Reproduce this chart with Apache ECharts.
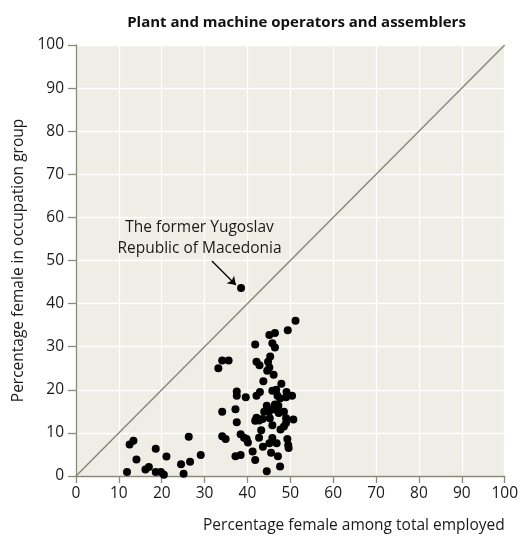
<!DOCTYPE html>
<html>
<head>
<meta charset="utf-8">
<script src="https://cdn.jsdelivr.net/npm/echarts@6/dist/echarts.min.js"></script>
<style>
html,body{margin:0;padding:0;background:#fff;}
#main{width:521px;height:536px;}
</style>
</head>
<body>
<div id="main"></div>
<script>
var chartTitle = 'Plant and machine operators and assemblers';
var xTitle = 'Percentage female among total employed';
var yTitle = 'Percentage female in occupation group';
var annotationText = 'The former Yugoslav\nRepublic of Macedonia';
var diagonal = [[0, 0], [100, 100]];
var points = [
  [12.5,7.3],[13.4,8.2],[14.1,3.8],[11.9,0.9],[16.2,1.5],[17.0,2.1],[18.6,6.3],[18.6,0.9],
  [19.8,0.9],[20.5,0.3],[21.1,4.5],[24.5,2.7],[25.1,0.5],[26.3,9.1],[26.6,3.3],[29.1,4.9],
  [51.2,36.0],[49.4,33.8],[46.4,33.2],[45.1,32.7],[41.8,30.5],[45.8,30.8],[46.4,29.8],[45.3,27.7],
  [34.1,26.8],[35.6,26.8],[42.1,26.5],[44.8,26.5],[42.8,25.7],[33.2,25.0],[45.1,25.2],[44.6,24.4],
  [46.1,23.5],[43.7,22.0],[47.9,21.4],[37.5,19.6],[42.9,19.5],[45.8,19.8],[46.7,20.0],[49.1,19.5],
  [37.5,18.6],[39.6,18.3],[42.1,18.6],[47.0,18.6],[47.6,18.0],[50.4,18.6],[49.0,18.3],[44.5,16.3],
  [46.4,16.6],[47.2,16.3],[45.9,15.5],[46.7,15.4],[37.2,15.5],[34.1,14.9],[43.9,14.9],[45.0,14.9],
  [48.5,14.9],[47.3,14.6],[42.1,13.5],[43.5,13.2],[45.2,13.4],[49.0,13.4],[41.8,12.8],[42.7,12.9],
  [50.7,13.1],[37.5,12.5],[49.0,12.3],[45.8,11.8],[48.5,11.5],[43.2,10.6],[47.7,10.8],[38.4,9.7],
  [39.2,8.9],[39.8,8.6],[40.1,7.8],[34.1,9.2],[34.9,8.6],[42.7,8.9],[45.8,8.8],[45.1,7.6],
  [46.8,7.6],[43.6,6.8],[49.3,8.6],[49.5,7.2],[49.6,6.5],[41.2,5.7],[45.5,5.4],[47.1,4.6],
  [37.2,4.6],[38.4,4.9],[41.8,3.7],[47.6,2.2],[44.5,1.1],
  [38.5,43.6]
];
var arrowFrom = [31.7, 49.9];
var arrowTo = [37.3, 44.3];
var labelAt = [28.8, 55.3];

var FONT = '"Open Sans", sans-serif';
var axisColor = '#8a8a78';
var textColor = '#1a1a1a';
var chart = echarts.init(document.getElementById('main'), null, {renderer: 'canvas'});
chart.setOption({
  animation: false,
  backgroundColor: '#ffffff',
  title: {
    text: chartTitle, left: 291.5, textAlign: 'center', top: 10,
    textStyle: {fontFamily: FONT, fontWeight: 'bold', fontSize: 15, color: '#111'}
  },
  grid: {left: 76, right: 14, top: 45, bottom: 60, show: true, backgroundColor: '#eeeee6', borderWidth: 0},
  xAxis: {
    type: 'value', min: 0, max: 100, interval: 10,
    name: xTitle, nameLocation: 'end', nameGap: 0,
    nameTextStyle: {fontFamily: FONT, fontSize: 15.5, color: textColor, align: 'right', verticalAlign: 'top', padding: [42, 0, 0, 0]},
    axisLine: {show: true, lineStyle: {color: axisColor, width: 1.3}},
    axisTick: {show: true, length: 7, lineStyle: {color: axisColor, width: 1.3}},
    axisLabel: {fontFamily: FONT, fontSize: 15.5, color: textColor, margin: 10},
    splitLine: {show: true, lineStyle: {color: '#ffffff', width: 1.3}}
  },
  yAxis: {
    type: 'value', min: 0, max: 100, interval: 10,
    name: yTitle, nameLocation: 'middle', nameGap: 49, nameRotate: 90,
    nameTextStyle: {fontFamily: FONT, fontSize: 15.5, color: textColor},
    axisLine: {show: true, lineStyle: {color: axisColor, width: 1.3}},
    axisTick: {show: true, length: 8, lineStyle: {color: axisColor, width: 1.3}},
    axisLabel: {fontFamily: FONT, fontSize: 15.5, color: textColor, margin: 12},
    splitLine: {show: true, lineStyle: {color: '#ffffff', width: 1.3}}
  },
  series: [
    {
      type: 'line', data: diagonal, symbol: 'none', silent: true,
      lineStyle: {color: '#8a8a78', width: 1.5}, z: 2
    },
    {
      type: 'scatter', data: points, symbol: 'circle', symbolSize: 8,
      itemStyle: {color: '#000000', opacity: 1}, z: 3,
      markPoint: {
        silent: true,
        data: [{coord: labelAt, symbol: 'circle', symbolSize: 0,
          label: {show: true, position: 'inside', formatter: annotationText,
            fontFamily: FONT, fontSize: 15.5, lineHeight: 21, color: textColor, align: 'center'}}]
      },
      markLine: {
        silent: true, symbol: ['none', 'arrow'], symbolSize: 8,
        label: {show: false},
        lineStyle: {color: '#000', width: 1.3, type: 'solid'},
        data: [[{coord: arrowFrom}, {coord: arrowTo}]]
      }
    }
  ]
});
</script>
</body>
</html>
